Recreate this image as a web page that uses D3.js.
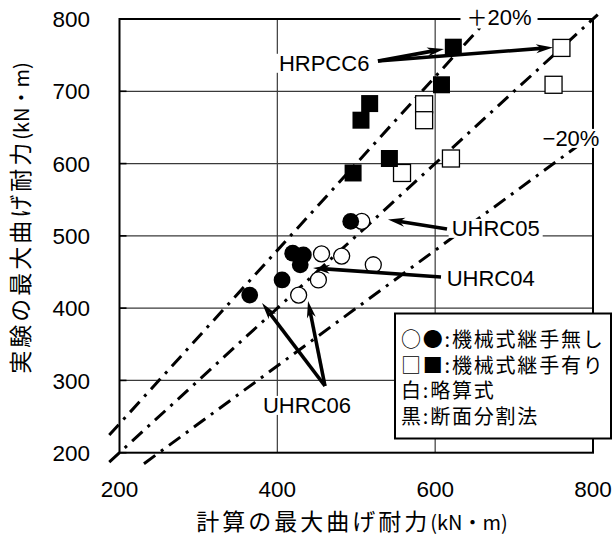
<!DOCTYPE html>
<html>
<head>
<meta charset="utf-8">
<script src="https://cdn.jsdelivr.net/npm/d3@7/dist/d3.min.js"></script>
<style>
  html, body { margin: 0; padding: 0; background: #fff; }
  svg { display: block; }
  .lat { font-family: "Liberation Sans", Arial, sans-serif; }
  .cjk { font-family: "Noto Sans CJK JP", "Noto Sans CJK SC", sans-serif; }
</style>
</head>
<body>
<svg id="chart" width="616" height="539"></svg>
<script>
// Axis ticks (kN·m)
const xTicks = [200, 400, 600, 800];
const yTicks = [200, 300, 400, 500, 600, 700, 800];

// Specimens without mechanical couplers: [calculated, experimental]
const circleApprox = [[507, 520], [456, 475], [481.5, 472], [521.6, 460], [452, 439], [427, 418]];
const circleSection = [[493, 520], [419.5, 476], [433, 473.5], [429, 460], [406, 439], [365, 418]];
// Specimens with mechanical couplers
const squareApprox = [[760, 760], [750, 709], [586, 682], [586, 660], [620, 607], [558, 587]];
const squareSection = [[623, 761], [608, 709], [517, 683], [506, 660], [542, 607], [496, 587]];

// Reference lines exp = ratio * calc, drawn between calc values x0..x1
const refRatios = [1.2, 1.0, 0.8];
const refFrom = [187, 187, 231];
const refTo = [675, 806, 805];

// Specimen call-outs: label anchor and arrows (from, to) in data units
const calloutNames = ["HRPCC6", "UHRC05", "UHRC04", "UHRC06"];
const calloutAt = [[402, 739.3], [620.9, 510.9], [614.6, 442.1], [381.8, 266]];
const calloutArrows = [
  [[[527.5, 741.9], [611.2, 758.5]], [[527.5, 741.9], [749.3, 760.6]]],
  [[[615, 509.5], [540.2, 522.6]]],
  [[[607.4, 443.1], [445.2, 455.5]]],
  [[[460.4, 292.3], [380.6, 407.1]], [[460.4, 292.3], [438.9, 409.9]]]
];
// band labels: sign glyph + value
const bandSigns = ["＋", "−"];
const bandValues = ["20%", "20%"];
const bandLabelAt = [[680.9, 802], [772.1, 635.4]];

const legendLines = ["○●:機械式継手無し", "□■:機械式継手有り", "白:略算式", "黒:断面分割法"];
const xTitle = ["計算の最大曲げ耐力", "(kN・m)"];
const yTitle = ["実験の最大曲げ耐力", "(kN・m)"];

const svg = d3.select("#chart");
const x = d3.scaleLinear().domain([200, 800]).range([119.5, 593]);
const y = d3.scaleLinear().domain([200, 800]).range([452.7, 19]);

// grid
const grid = svg.append("g");
grid.selectAll("line.h").data(yTicks.slice(1, -1)).join("line")
  .attr("x1", x(200)).attr("x2", x(800))
  .attr("y1", d => y(d)).attr("y2", d => y(d))
  .attr("stroke", "#3a3a3a").attr("stroke-width", 1.2);
grid.selectAll("line.v").data(xTicks.slice(1, -1)).join("line")
  .attr("y1", y(200)).attr("y2", y(800))
  .attr("x1", d => x(d)).attr("x2", d => x(d))
  .attr("stroke", "#3a3a3a").attr("stroke-width", 1.2);
// short inward ticks on the left axis
grid.selectAll("line.t").data(yTicks).join("line")
  .attr("x1", x(200)).attr("x2", x(200) + 7)
  .attr("y1", d => y(d)).attr("y2", d => y(d))
  .attr("stroke", "#000").attr("stroke-width", 1.6);

// frame
svg.append("rect")
  .attr("x", x(200)).attr("y", y(800))
  .attr("width", x(800) - x(200)).attr("height", y(200) - y(800))
  .attr("fill", "none").attr("stroke", "#000").attr("stroke-width", 2);

// tick labels
svg.append("g").selectAll("text").data(yTicks).join("text")
  .attr("class", "lat").attr("x", 90).attr("y", d => y(d))
  .attr("dy", "0.36em").attr("text-anchor", "end")
  .attr("font-size", 22.5).text(d => d);
svg.append("g").selectAll("text").data(xTicks).join("text")
  .attr("class", "lat").attr("x", d => x(d)).attr("y", 489)
  .attr("dy", "0.36em").attr("text-anchor", "middle")
  .attr("font-size", 22.5).text(d => d);

// ±20% reference lines
svg.append("g").selectAll("line").data(refRatios).join("line")
  .attr("x1", (r, i) => x(refFrom[i])).attr("y1", (r, i) => y(r * refFrom[i]))
  .attr("x2", (r, i) => x(refTo[i])).attr("y2", (r, i) => y(r * refTo[i]))
  .attr("stroke", "#000").attr("stroke-width", 3)
  .attr("stroke-dasharray", "14,7,3,7");

// white backing behind a text so lines underneath are interrupted
function backText(g, t, pad) {
  const bb = t.node().getBBox();
  g.insert("rect", "text").attr("x", bb.x - pad).attr("y", Math.max(0, bb.y + 3))
    .attr("width", bb.width + 2 * pad).attr("height", bb.height - 6)
    .attr("fill", "#fff");
}

// band labels
bandSigns.forEach((s, i) => {
  const g = svg.append("g");
  const t = g.append("text").attr("class", "lat")
    .attr("x", x(bandLabelAt[i][0])).attr("y", y(bandLabelAt[i][1]))
    .attr("dy", "0.36em").attr("text-anchor", "middle").attr("font-size", 22);
  if (i === 0) {
    t.append("tspan").attr("class", "cjk").attr("font-size", 21).text(s);
  } else {
    t.append("tspan").text(s);
  }
  t.append("tspan").text(bandValues[i]);
  backText(g, t, 6);
});

// markers
const pts = svg.append("g");
const sq = 17;
pts.selectAll("rect.o").data(squareApprox).join("rect")
  .attr("x", d => x(d[0]) - sq / 2).attr("y", d => y(d[1]) - sq / 2)
  .attr("width", sq).attr("height", sq)
  .attr("fill", "#fff").attr("stroke", "#000").attr("stroke-width", 1.3);
pts.selectAll("rect.f").data(squareSection).join("rect")
  .attr("x", d => x(d[0]) - sq / 2).attr("y", d => y(d[1]) - sq / 2)
  .attr("width", sq).attr("height", sq).attr("fill", "#000");
pts.selectAll("circle.o").data(circleApprox).join("circle")
  .attr("cx", d => x(d[0])).attr("cy", d => y(d[1])).attr("r", 8)
  .attr("fill", "#fff").attr("stroke", "#000").attr("stroke-width", 1.3);
pts.selectAll("circle.f").data(circleSection).join("circle")
  .attr("cx", d => x(d[0])).attr("cy", d => y(d[1])).attr("r", 8.4)
  .attr("fill", "#000");

// call-outs
const co = svg.append("g");
function arrow(g, a, b) {
  const x1 = x(a[0]), y1 = y(a[1]), x2 = x(b[0]), y2 = y(b[1]);
  const ang = Math.atan2(y2 - y1, x2 - x1);
  const L = 17, W = 4.5, N = 12;
  const c = Math.cos(ang), s = Math.sin(ang);
  const pt = (u, v) => [x2 - u * c - v * s, y2 - u * s + v * c];
  g.append("line").attr("x1", x1).attr("y1", y1)
    .attr("x2", pt(N, 0)[0]).attr("y2", pt(N, 0)[1])
    .attr("stroke", "#000").attr("stroke-width", 3.6);
  g.append("path")
    .attr("d", "M" + [x2, y2] + "L" + pt(L, -W) + "L" + pt(N, 0) + "L" + pt(L, W) + "Z")
    .attr("fill", "#000");
}
calloutNames.forEach((n, i) => {
  const g = co.append("g");
  const t = g.append("text").attr("class", "lat")
    .attr("x", x(calloutAt[i][0])).attr("y", y(calloutAt[i][1]))
    .attr("dy", "0.36em").attr("font-size", 22).text(n);
  backText(g, t, 3);
  calloutArrows[i].forEach(p => arrow(g, p[0], p[1]));
});

// legend
const lg = svg.append("g");
lg.append("rect").attr("x", 395).attr("y", 313.5).attr("width", 216).attr("height", 125)
  .attr("fill", "#fff").attr("stroke", "#000").attr("stroke-width", 2);
lg.selectAll("text").data(legendLines).join("text")
  .attr("class", "cjk").attr("x", 401).attr("y", (d, i) => 339.5 + i * 25.8)
  .attr("dy", "0.36em").attr("font-size", 20).attr("letter-spacing", 1.8)
  .text(d => d);

// axis titles
const xt = svg.append("text").attr("class", "cjk")
  .attr("x", 352).attr("y", 524).attr("dy", "0.36em").attr("text-anchor", "middle");
xt.append("tspan").attr("font-size", 23).attr("letter-spacing", 3).text(xTitle[0]);
xt.append("tspan").attr("font-size", 20).text(xTitle[1]);

const yt = svg.append("text").attr("class", "cjk")
  .attr("transform", "translate(23,218) rotate(-90)")
  .attr("dy", "0.36em").attr("text-anchor", "middle");
yt.append("tspan").attr("font-size", 23).attr("letter-spacing", 3).text(yTitle[0]);
yt.append("tspan").attr("font-size", 20).text(yTitle[1]);
</script>
</body>
</html>
